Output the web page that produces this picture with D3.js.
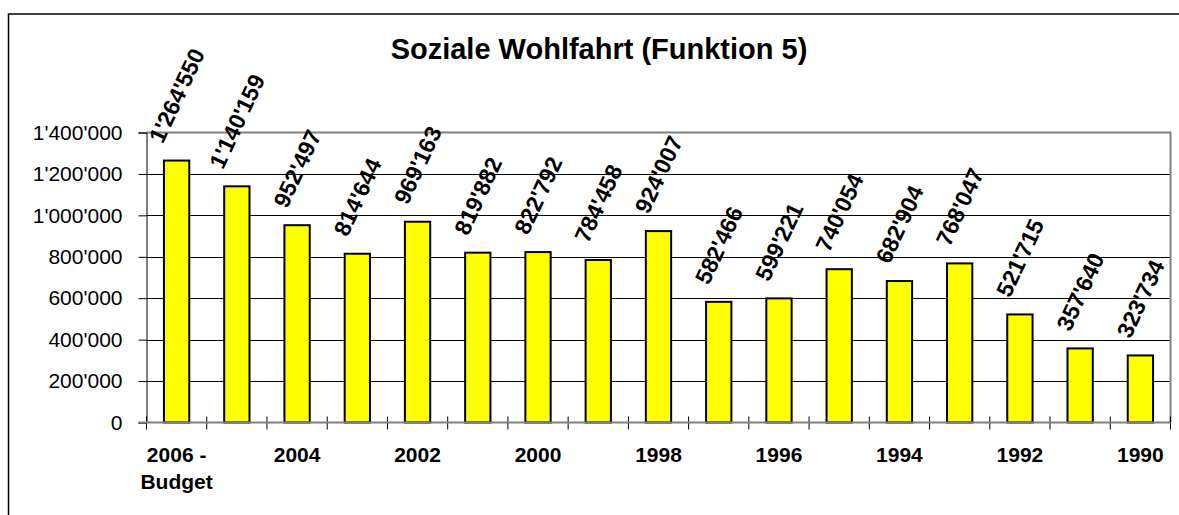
<!DOCTYPE html>
<html>
<head>
<meta charset="utf-8">
<script src="https://cdn.jsdelivr.net/npm/d3@7"></script>
<style>
  body { margin: 0; background: #fff; }
  svg { display: block; font-family: "Liberation Sans", Arial, sans-serif; }
</style>
</head>
<body>
<div id="chart"></div>
<script>
// Chart data
const years = ['2006 - Budget', '2005', '2004', '2003', '2002', '2001', '2000', '1999', '1998',
  '1997', '1996', '1995', '1994', '1993', '1992', '1991', '1990'];
const amounts = [1264550, 1140159, 952497, 814644, 969163, 819882, 822792, 784458, 924007,
  582466, 599221, 740054, 682904, 768047, 521715, 357640, 323734];
const yTicks = [0, 200000, 400000, 600000, 800000, 1000000, 1200000, 1400000];
const shownYears = ['2006 - Budget', '2004', '2002', '2000', '1998', '1996', '1994', '1992', '1990'];

const width = 1179;
const height = 515;
const plot = { left: 146.5, right: 1170.5, top: 132.5, bottom: 422.5 };

// Swiss thousands separator: 1'264'550
const fmt = v => d3.format(',')(v).replace(/,/g, "'");

const svg = d3.select('#chart')
  .append('svg')
  .attr('width', width)
  .attr('height', height);

// Outer chart frame (runs off the right and bottom edge)
svg.append('rect')
  .attr('x', 8.5)
  .attr('y', 14)
  .attr('width', width + 10)
  .attr('height', height + 10)
  .attr('fill', '#fff')
  .attr('stroke', '#000')
  .attr('stroke-width', 1.5);

// Title
svg.append('text')
  .attr('x', 599)
  .attr('y', 59)
  .attr('text-anchor', 'middle')
  .attr('font-size', 29)
  .attr('font-weight', 'bold')
  .text('Soziale Wohlfahrt (Funktion 5)');

const x = d3.scaleBand()
  .domain(years)
  .range([plot.left, plot.right])
  .paddingInner(0.58)
  .paddingOuter(0.29);

const y = d3.scaleLinear()
  .domain([0, 1400000])
  .range([plot.bottom, plot.top]);

// Gridlines
svg.append('g')
  .selectAll('line')
  .data(yTicks.filter(t => t > 0 && t < 1400000))
  .enter()
  .append('line')
  .attr('x1', plot.left)
  .attr('x2', plot.right)
  .attr('y1', d => Math.round(y(d)) + 0.5)
  .attr('y2', d => Math.round(y(d)) + 0.5)
  .attr('stroke', '#000')
  .attr('stroke-width', 1);

// Plot area border (top and right, gray)
svg.append('path')
  .attr('d', `M${plot.left},${plot.top} H${plot.right} V${plot.bottom}`)
  .attr('fill', 'none')
  .attr('stroke', '#808080')
  .attr('stroke-width', 2);

// Y axis
const yAxis = svg.append('g')
  .attr('transform', `translate(${plot.left},0)`)
  .call(d3.axisLeft(y).tickValues(yTicks).tickFormat(fmt).tickSize(8).tickPadding(16));
yAxis.select('.domain').attr('stroke', '#000').attr('stroke-width', 1);
yAxis.selectAll('.tick line').attr('stroke', '#000');
yAxis.selectAll('.tick text')
  .attr('font-family', '"Liberation Sans", Arial, sans-serif')
  .attr('font-size', 21)
  .attr('fill', '#000');

// Bars
svg.append('g')
  .selectAll('rect')
  .data(amounts)
  .enter()
  .append('rect')
  .attr('x', (d, i) => x(years[i]))
  .attr('y', d => y(d))
  .attr('width', x.bandwidth())
  .attr('height', d => plot.bottom - y(d))
  .attr('fill', '#ffff00')
  .attr('stroke', '#000')
  .attr('stroke-width', 2);

// X axis (gray baseline with ticks crossing it)
const step = x.step();
const boundaries = d3.range(years.length + 1).map(i => plot.left + i * step);
svg.append('g')
  .selectAll('line')
  .data(boundaries)
  .enter()
  .append('line')
  .attr('x1', d => d)
  .attr('x2', d => d)
  .attr('y1', plot.bottom - 6)
  .attr('y2', plot.bottom + 7)
  .attr('stroke', '#000')
  .attr('stroke-width', 1);

svg.append('line')
  .attr('x1', plot.left - 8)
  .attr('x2', plot.right)
  .attr('y1', plot.bottom)
  .attr('y2', plot.bottom)
  .attr('stroke', '#808080')
  .attr('stroke-width', 2);

// Category labels (every second year)
const xLabels = svg.append('g')
  .selectAll('text')
  .data(shownYears)
  .enter()
  .append('text')
  .attr('x', d => x(d) + x.bandwidth() / 2)
  .attr('y', 462)
  .attr('text-anchor', 'middle')
  .attr('font-size', 21)
  .attr('font-weight', 'bold');

xLabels.each(function(d) {
  const parts = d.split(' - ');
  const t = d3.select(this);
  if (parts.length > 1) {
    t.append('tspan').attr('x', t.attr('x')).text(parts[0] + ' -');
    t.append('tspan').attr('x', t.attr('x')).attr('dy', 27).text(parts[1]);
  } else {
    t.text(d);
  }
});

// Rotated value labels above the bars
const angle = 65;
const rad = angle * Math.PI / 180;
const fontSize = 23;
const capH = fontSize * 0.716;
const gap = 16;

svg.append('g')
  .selectAll('text')
  .data(amounts)
  .enter()
  .append('text')
  .attr('font-size', fontSize)
  .attr('font-weight', 'bold')
  .text(d => fmt(d))
  .each(function(d, i) {
    const w = this.getComputedTextLength();
    const cx = x(years[i]) + x.bandwidth() / 2;
    const ax = cx - (w * Math.cos(rad) - capH * Math.sin(rad)) / 2;
    const ay = y(d) - gap;
    d3.select(this)
      .attr('x', 0)
      .attr('y', 0)
      .attr('transform', `translate(${ax},${ay}) rotate(${-angle})`);
  });
</script>
</body>
</html>
